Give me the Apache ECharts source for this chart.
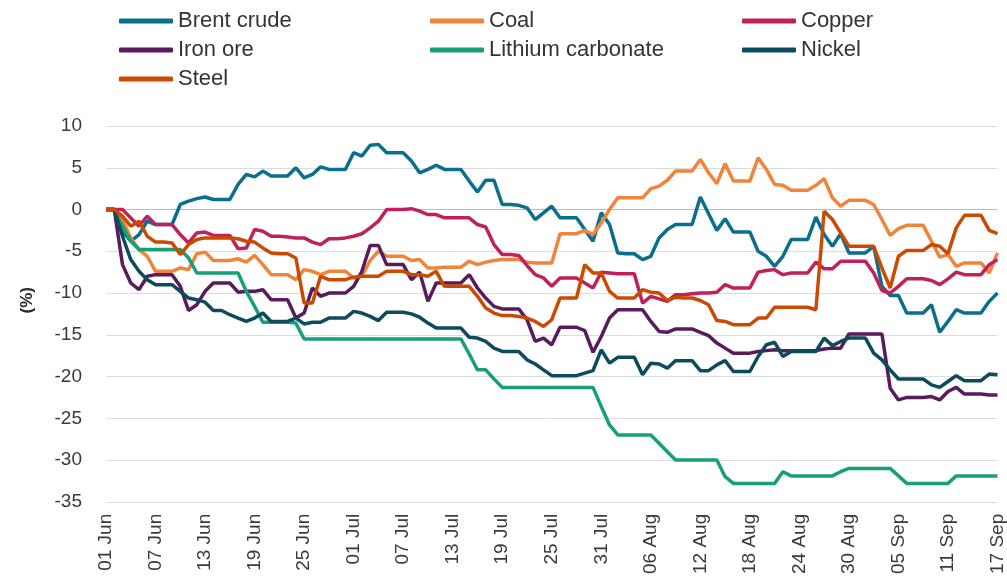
<!DOCTYPE html>
<html><head><meta charset="utf-8">
<script src="https://cdn.jsdelivr.net/npm/echarts@6/dist/echarts.min.js"></script>
<style>html,body{margin:0;padding:0;background:#fff}#c{width:1007px;height:577px}</style>
</head><body><div id="c"></div>
<script>
// categories: daily dates 01 Jun .. 17 Sep
const months = [["Jun",30],["Jul",31],["Aug",31],["Sep",17]];
const dates = [];
months.forEach(([m,n])=>{for(let d=1;d<=n;d++){dates.push((d<10?"0":"")+d+" "+m);}});

const yTicks = {min:-35, max:10, interval:5};
const yName = "(%)";
const seriesNames = ["Brent crude","Coal","Copper","Iron ore","Lithium carbonate","Nickel","Steel"];

const brent = [0,0,-2.6,-3.8,-3.0,-1.4,-1.8,-1.8,-1.8,0.6,1.0,1.3,1.5,1.2,1.2,1.2,3.0,4.2,3.9,4.6,4.0,4.0,4.0,5.0,3.8,4.2,5.1,4.8,4.8,4.8,6.8,6.4,7.7,7.8,6.8,6.8,6.8,5.8,4.4,4.8,5.3,4.8,4.8,4.8,3.4,2.1,3.5,3.5,0.6,0.6,0.5,0.2,-1.2,-0.4,0.4,-1.0,-1.0,-1.0,-2.4,-3.8,-0.4,-1.8,-5.2,-5.3,-5.3,-6.0,-5.6,-3.4,-2.4,-1.8,-1.8,-1.8,1.5,-0.5,-2.5,-1.1,-2.7,-2.7,-2.7,-5.0,-5.6,-6.8,-5.6,-3.6,-3.6,-3.6,-0.9,-3.0,-4.4,-2.9,-5.2,-5.2,-5.2,-4.4,-9.2,-10.3,-10.3,-12.4,-12.4,-12.4,-11.4,-14.7,-13.4,-12.0,-12.4,-12.4,-12.4,-11.0,-10.0];
const coal = [0,0,-1.2,-3.4,-4.8,-5.6,-7.4,-7.4,-7.4,-7.0,-7.2,-5.3,-5.1,-6.1,-6.1,-6.1,-5.9,-6.3,-5.5,-6.6,-7.8,-7.8,-7.8,-8.4,-7.2,-7.4,-7.8,-7.4,-7.4,-7.4,-8.2,-8.0,-6.1,-5.0,-5.6,-5.6,-5.6,-6.1,-6.0,-7.0,-7.0,-6.9,-6.9,-6.9,-6.2,-6.6,-6.3,-6.1,-6.0,-6.0,-6.0,-6.3,-6.4,-6.4,-6.4,-2.9,-2.9,-2.9,-2.5,-3.0,-1.6,0,1.4,1.4,1.4,1.4,2.5,2.8,3.5,4.6,4.6,4.6,6.0,4.4,3.1,5.5,3.4,3.4,3.4,6.2,4.8,3.0,2.9,2.3,2.3,2.3,2.9,3.7,1.4,0.4,1.1,1.1,1.1,0.6,-1.2,-3.1,-2.3,-1.9,-1.9,-1.9,-3.8,-5.7,-5.4,-6.8,-6.4,-6.4,-6.4,-7.6,-5.2];
const copper = [0,0,0,-1.0,-2.0,-0.8,-1.8,-1.8,-1.8,-3.0,-4.0,-2.8,-2.7,-3.1,-3.1,-3.1,-4.7,-4.6,-2.4,-2.6,-3.2,-3.2,-3.3,-3.4,-3.4,-3.9,-4.2,-3.5,-3.5,-3.4,-3.2,-2.9,-2.2,-1.4,0,0,0,0.1,-0.2,-0.6,-0.6,-1.0,-1.0,-1.0,-1.0,-1.8,-2.1,-4.2,-5.4,-5.4,-5.5,-6.7,-7.8,-8.2,-9.2,-8.2,-8.2,-8.2,-8.8,-9.4,-7.5,-7.6,-7.7,-7.7,-7.7,-11.2,-10.4,-10.7,-11.0,-10.2,-10.2,-10.1,-10.0,-10.0,-9.9,-9.0,-9.4,-9.4,-9.4,-7.5,-7.3,-7.2,-7.8,-7.6,-7.6,-7.6,-6.3,-7.1,-7.1,-6.2,-6.2,-6.2,-6.2,-7.6,-9.7,-10.0,-9.2,-8.3,-8.3,-8.3,-8.5,-9.0,-8.3,-7.5,-7.8,-7.8,-7.8,-6.6,-6.0];
const ironOre = [0,0,-6.6,-8.8,-9.6,-8.0,-7.8,-7.8,-7.8,-9.2,-12.1,-11.4,-9.8,-8.8,-8.8,-8.8,-9.9,-9.8,-9.8,-9.6,-10.8,-10.8,-10.8,-13.0,-12.4,-9.4,-10.4,-10.0,-10.0,-10.0,-9.2,-7.4,-4.3,-4.3,-6.6,-6.6,-6.6,-8.4,-7.5,-11.0,-8.8,-8.8,-8.8,-8.8,-7.8,-9.4,-10.6,-11.6,-11.9,-11.9,-11.9,-13.2,-15.8,-15.4,-16.2,-14.1,-14.1,-14.1,-14.5,-17.1,-15.2,-13.0,-12.0,-12.0,-12.0,-12.0,-13.4,-14.6,-14.7,-14.3,-14.3,-14.3,-14.7,-15.1,-16.0,-16.6,-17.2,-17.2,-17.2,-17.0,-16.9,-16.8,-16.9,-16.9,-16.9,-16.9,-16.9,-16.7,-16.6,-16.6,-14.9,-14.9,-14.9,-14.9,-14.9,-21.4,-22.8,-22.5,-22.5,-22.5,-22.4,-22.8,-21.8,-21.3,-22.1,-22.1,-22.1,-22.2,-22.2];
const lithium = [0,0,-2.0,-3.8,-4.8,-4.8,-4.8,-4.8,-4.8,-4.8,-5.8,-7.6,-7.6,-7.6,-7.6,-7.6,-7.6,-9.8,-11.6,-13.5,-13.5,-13.5,-13.5,-13.6,-15.5,-15.5,-15.5,-15.5,-15.5,-15.5,-15.5,-15.5,-15.5,-15.5,-15.5,-15.5,-15.5,-15.5,-15.5,-15.5,-15.5,-15.5,-15.5,-15.5,-17.3,-19.2,-19.2,-20.3,-21.3,-21.3,-21.3,-21.3,-21.3,-21.3,-21.3,-21.3,-21.3,-21.3,-21.3,-21.3,-23.6,-25.8,-27.0,-27.0,-27.0,-27.0,-27.0,-28.0,-29.0,-30.0,-30.0,-30.0,-30.0,-30.0,-30.0,-32.0,-32.8,-32.8,-32.8,-32.8,-32.8,-32.8,-31.4,-31.9,-31.9,-31.9,-31.9,-31.9,-31.9,-31.4,-31.0,-31.0,-31.0,-31.0,-31.0,-31.0,-31.9,-32.8,-32.8,-32.8,-32.8,-32.8,-32.8,-31.9,-31.9,-31.9,-31.9,-31.9,-31.9];
const nickel = [0,0,-3.2,-6.0,-7.4,-8.4,-9.0,-9.0,-9.0,-9.8,-10.6,-10.8,-11.1,-12.1,-12.1,-12.6,-13.0,-13.4,-13.0,-12.4,-13.4,-13.4,-13.4,-13.0,-13.7,-13.5,-13.5,-13.0,-13.0,-13.0,-12.2,-12.4,-12.8,-13.3,-12.3,-12.3,-12.3,-12.5,-12.9,-13.6,-14.2,-14.2,-14.2,-14.2,-15.3,-15.4,-15.8,-16.6,-17.0,-17.0,-17.0,-18.0,-18.5,-19.2,-19.9,-19.9,-19.9,-19.9,-19.6,-19.3,-16.8,-18.4,-17.7,-17.7,-17.7,-19.8,-18.4,-18.5,-19.0,-18.1,-18.1,-18.1,-19.3,-19.3,-18.6,-18.1,-19.4,-19.4,-19.4,-17.6,-16.2,-15.9,-17.6,-17.0,-17.0,-17.0,-17.0,-15.4,-16.3,-15.8,-15.4,-15.4,-15.4,-17.2,-18.0,-19.2,-20.3,-20.3,-20.3,-20.3,-21.0,-21.3,-20.6,-19.9,-20.5,-20.5,-20.5,-19.7,-19.8];
const steel = [0,0,-0.8,-2.0,-1.4,-3.2,-3.9,-3.9,-4.0,-5.4,-4.2,-3.6,-3.4,-3.4,-3.4,-3.4,-3.5,-3.8,-3.9,-4.6,-5.2,-5.3,-5.3,-5.8,-11.2,-11.2,-8.0,-8.4,-8.4,-8.4,-8.1,-8.0,-8.0,-8.0,-7.4,-7.4,-7.4,-7.8,-7.8,-8.0,-7.4,-9.2,-9.2,-9.2,-9.2,-10.4,-11.8,-12.4,-12.7,-12.7,-12.8,-13.0,-13.4,-14.0,-13.2,-10.6,-10.6,-10.6,-6.6,-7.6,-7.6,-9.8,-10.6,-10.6,-10.6,-9.6,-9.9,-10.0,-10.9,-10.5,-10.6,-10.6,-10.9,-11.4,-13.3,-13.4,-13.8,-13.8,-13.8,-13.0,-13.0,-11.7,-11.7,-11.7,-11.7,-11.7,-12.0,-0.2,-1.2,-2.8,-4.4,-4.4,-4.4,-4.4,-7.0,-9.4,-5.6,-4.9,-4.9,-4.9,-4.2,-4.4,-5.3,-2.2,-0.7,-0.7,-0.7,-2.5,-2.9];

const values = [brent, coal, copper, ironOre, lithium, nickel, steel];
const colors = ["#0a6f8c","#f0843a","#c0215b","#5a1a5e","#17a078","#0c4b5b","#cc4a00"];

const FONT = "Liberation Sans, Arial, sans-serif";
const chart = echarts.init(document.getElementById('c'), null, {renderer:'canvas'});

function legendCol(left, names){
  return {
    orient:'vertical', left:left, top:10, padding:0, itemGap:7, itemWidth:54, itemHeight:5,
    icon:'roundRect', data:names, selectedMode:false,
    textStyle:{fontFamily:FONT, fontSize:22, color:'#333', lineHeight:22}
  };
}

chart.setOption({
  animation:false,
  backgroundColor:'#fff',
  color: colors,
  legend:[
    legendCol(119,[seriesNames[0],seriesNames[3],seriesNames[6]]),
    legendCol(430,[seriesNames[1],seriesNames[4]]),
    legendCol(742,[seriesNames[2],seriesNames[5]])
  ],
  graphic:[{
    type:'text', left:19, top:287, rotation:Math.PI/2,
    style:{text:yName, fontFamily:FONT, fontSize:17, fontWeight:'bold', fill:'#262626',
      textAlign:'center', textVerticalAlign:'middle'}
  }],
  grid:{left:106, right:4, top:126, bottom:75, containLabel:false},
  xAxis:{
    type:'category', data:dates, boundaryGap:false,
    axisLine:{show:false}, axisTick:{show:false},
    axisLabel:{interval:5, rotate:90, fontSize:19, color:'#3a3a3a', fontFamily:FONT, margin:12}
  },
  yAxis:{
    type:'value', min:yTicks.min, max:yTicks.max, interval:yTicks.interval,
    axisLine:{show:false}, axisTick:{show:false},
    axisLabel:{fontSize:19, color:'#3a3a3a', fontFamily:FONT, margin:24},
    splitLine:{lineStyle:{color:'#dcdcdc', width:1}}
  },
  series: seriesNames.map((n,k)=>({
    name:n, type:'line', data:values[k], symbol:'none', showSymbol:false,
    lineStyle:{width:3.5, color:colors[k]}, itemStyle:{color:colors[k]},
    z: 2+k,
    markLine: k===0 ? {silent:true, symbol:'none', label:{show:false},
      lineStyle:{color:'#bdbdbd', width:1, type:'solid'}, data:[{yAxis:0}], z:1} : undefined
  }))
});
</script></body></html>
